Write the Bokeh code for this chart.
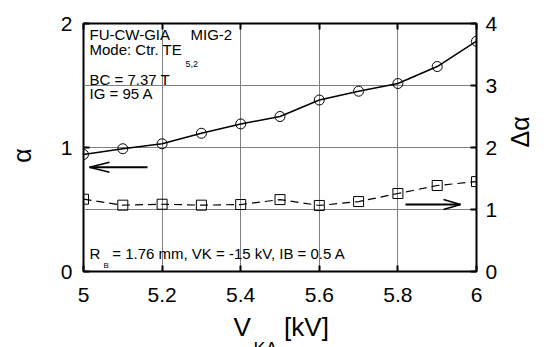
import math
from bokeh.plotting import figure
from bokeh.models import Range1d, LinearAxis, FixedTicker, NumeralTickFormatter, Label
from bokeh.embed import file_html
from bokeh.resources import INLINE

# ---------------- data ----------------
volts = [5.0, 5.1, 5.2, 5.3, 5.4, 5.5, 5.6, 5.7, 5.8, 5.9, 6.0]
alpha = [0.944, 0.99, 1.03, 1.115, 1.19, 1.25, 1.383, 1.454, 1.516, 1.653, 1.857]
dalpha = [1.166, 1.07, 1.085, 1.07, 1.08, 1.16, 1.065, 1.128, 1.258, 1.387, 1.45]

x_ticks = [5.0, 5.2, 5.4, 5.6, 5.8, 6.0]
alpha_ticks = [0, 1, 2]
dalpha_ticks = [0, 1, 2, 3, 4]
grid_alpha = [0.5, 1.0, 1.5]

# ---------------- layout ----------------
FONT = "Liberation Sans"
W, H = 554, 347
ML, MR, MT, MB = 83, 78, 23, 76
FW, FH = W - ML - MR, H - MT - MB
X0, X1 = 5.0, 6.0
Y0, Y1 = 0.0, 2.0


def dx(px):
    return X0 + (px - ML) / FW * (X1 - X0)


def dy(py):
    return Y0 + (MT + FH - py) / FH * (Y1 - Y0)


p = figure(width=W, height=H, x_range=Range1d(X0, X1), y_range=Range1d(Y0, Y1),
           output_backend="svg", toolbar_location=None,
           min_border_left=ML, min_border_right=MR, min_border_top=MT, min_border_bottom=MB)
p.extra_y_ranges = {"right": Range1d(0, 4)}
p.background_fill_color = "white"
p.border_fill_color = "white"
p.outline_line_color = "black"
p.outline_line_width = 2
p.outline_line_alpha = 1


def style_axis(ax, ticks, standoff, labels=True):
    ax.ticker = FixedTicker(ticks=ticks, minor_ticks=[])
    ax.major_tick_in = 6
    ax.major_tick_out = 0
    ax.minor_tick_in = 0
    ax.minor_tick_out = 0
    ax.major_tick_line_color = "black"
    ax.major_tick_line_width = 2
    ax.axis_line_color = None
    ax.major_label_text_font = FONT
    ax.major_label_text_font_size = "21px"
    ax.major_label_text_color = "black"
    ax.major_label_standoff = standoff
    ax.formatter = NumeralTickFormatter(format="0.[0]")
    ax.axis_label_text_font = FONT
    ax.axis_label_text_font_style = "normal"
    ax.axis_label_text_color = "black"
    ax.axis_label_text_font_size = "25px"
    if not labels:
        ax.major_label_overrides = {float(t): "" for t in ticks}


style_axis(p.xaxis[0], x_ticks, 16)
style_axis(p.yaxis[0], alpha_ticks, 11)

right = LinearAxis(y_range_name="right")
style_axis(right, dalpha_ticks, 9)
right.axis_label = "Δα"
right.axis_label_standoff = 20
right.axis_label_orientation = math.pi / 2
p.add_layout(right, "right")

top = LinearAxis()
style_axis(top, x_ticks, 0, labels=False)
p.add_layout(top, "above")

p.xgrid.ticker = FixedTicker(ticks=x_ticks[1:-1], minor_ticks=[])
p.ygrid.ticker = FixedTicker(ticks=grid_alpha, minor_ticks=[])
for g in (p.xgrid[0], p.ygrid[0]):
    g.grid_line_color = "#808080"
    g.grid_line_width = 1

# ---------------- series ----------------
p.line(volts, alpha, line_color="black", line_width=1.5)
p.scatter(volts, alpha, marker="circle", size=10, fill_color=None,
          line_color="black", line_width=1)

p.line(volts, dalpha, y_range_name="right", line_color="black",
       line_width=1.2, line_dash="8 5")
p.scatter(volts, dalpha, y_range_name="right", marker="square", size=10,
          fill_color=None, line_color="black", line_width=1)

# ---------------- arrows (px: tail, tip, head length, head half-width) ----------------
arrows = [((147, 166.7), (89, 166.7), 20, 5),
          ((405, 204), (460, 204), 17, 5)]
for (tx, ty), (hx, hy), hl, hw in arrows:
    p.line([dx(tx), dx(hx)], [dy(ty), dy(hy)], line_color="black", line_width=2)
    sgn = 1 if tx > hx else -1
    p.line([dx(hx + sgn * hl), dx(hx), dx(hx + sgn * hl)],
           [dy(hy - hw), dy(hy), dy(hy + hw)], line_color="black", line_width=1.5)


# ---------------- texts (y = vertical centre of the text) ----------------
def make_label(text, px, py, size, align="left", angle=0.0):
    return Label(x=dx(px), y=dy(py), text=text, text_font=FONT,
                 text_font_size=f"{size}px", text_color="black",
                 text_align=align, text_baseline="middle", angle=angle)


def add_label(text, px, py, size):
    p.add_layout(make_label(text, px, py, size))


add_label("FU-CW-GIA", 89, 33.8, 15)
add_label("MIG-2", 190, 33.8, 15)
add_label("Mode: Ctr. TE", 89, 49.4, 15)
add_label("5,2", 185, 63.5, 9)
add_label("BC = 7.37 T", 89, 78.7, 15)
add_label("IG = 95 A", 89, 93.2, 15)
add_label("R", 89, 252.8, 15)
add_label("B", 103, 264.5, 8)
add_label("= 1.76 mm, VK = -15 kV, IB = 0.5 A", 111.7, 252.8, 15)

# texts outside the frame live in side panels (not clipped); spread so panels keep their size
p.add_layout(make_label("α", 21, 155, 25, align="center", angle=math.pi / 2), "left")
p.add_layout(make_label("KA", 253, 348.5, 18), "left")
p.add_layout(make_label("V\u2003\u00a0[kV]", 233, 326.5, 26), "below")

open("out.html", "w").write(file_html(p, INLINE))
